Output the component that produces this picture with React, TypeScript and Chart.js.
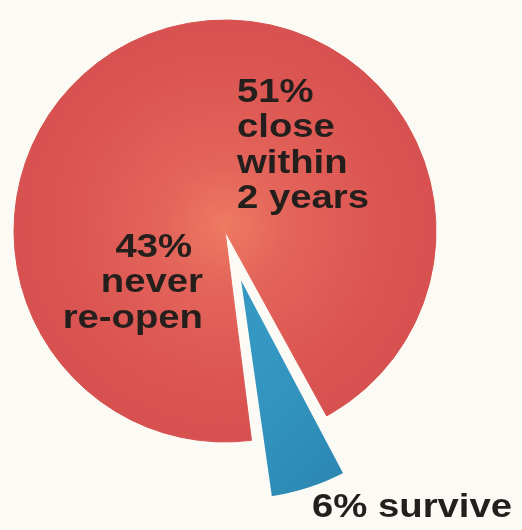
import { useEffect, useRef } from "react";
import { Chart, registerables } from "chart.js";

Chart.register(...registerables);

// ---- data ----
const categories = ["survive", "never re-open", "close within 2 years"];
const shares = [6, 43, 51];
const sliceLabels: string[][] = [
  ["6% survive"],
  ["43%", "never", "re-open"],
  ["51%", "close", "within", "2 years"],
];
const explode = [150, 0, 0];

const BG = "#fbfaf4";
const TEXT = "#241f1c";
const RADIUS = 211;
const STRETCH = 1.16;

function fillFor(c: any) {
  const chart = c.chart;
  const a = chart.chartArea;
  if (!a) return c.dataIndex === 0 ? "#2e8ab5" : "#dc5852";
  const cx = (a.left + a.right) / 2;
  const cy = (a.top + a.bottom) / 2;
  const ctx = chart.ctx as CanvasRenderingContext2D;
  if (c.dataIndex === 0) {
    const g = ctx.createLinearGradient(cx + 10, cy + 100, cx + 130, cy + 220);
    g.addColorStop(0, "#3498c3");
    g.addColorStop(0.6, "#2f8eb9");
    g.addColorStop(1, "#2b80ad");
    return g;
  }
  const g = ctx.createRadialGradient(cx, cy - 5, 0, cx, cy - 5, RADIUS);
  g.addColorStop(0, "#ee7a62");
  g.addColorStop(0.3, "#e3645a");
  g.addColorStop(0.7, "#dc5753");
  g.addColorStop(1, "#d6514f");
  return g;
}

const labelPlugin = {
  id: "sliceLabels",
  afterDatasetsDraw(chart: any) {
    const meta = chart.getDatasetMeta(0);
    const arc = meta.data[1];
    if (!arc) return;
    const cx = arc.x;
    const cy = arc.y;
    const ctx = chart.ctx as CanvasRenderingContext2D;
    ctx.save();
    ctx.scale(STRETCH, 1);
    const X = (x: number) => x / STRETCH;
    ctx.font = "bold 33px 'Liberation Sans', Arial, sans-serif";
    ctx.fillStyle = TEXT;
    ctx.textBaseline = "alphabetic";
    // 51% block, left aligned
    ctx.textAlign = "left";
    sliceLabels[2].forEach((t, i) => ctx.fillText(t, X(cx + 12), cy - 129 + i * 35.3));
    // 43% block
    ctx.textAlign = "right";
    const l43 = sliceLabels[1];
    ctx.fillText(l43[0], X(cx - 33), cy + 26);
    ctx.fillText(l43[1], X(cx - 22), cy + 61);
    ctx.fillText(l43[2], X(cx - 22), cy + 97);
    // 6% label
    ctx.textAlign = "left";
    ctx.fillText(sliceLabels[0][0], X(cx + 87), cy + 286);
    ctx.restore();
  },
};

export default function App() {
  const ref = useRef<HTMLCanvasElement | null>(null);
  useEffect(() => {
    if (!ref.current) return;
    const chart = new Chart(ref.current, {
      type: "pie",
      data: {
        labels: categories,
        datasets: [
          {
            data: shares,
            backgroundColor: fillFor as any,
            borderColor: ((c: any) => (c.dataIndex === 0 ? BG : fillFor(c))) as any,
            borderWidth: [5, 1, 1],
            offset: explode,
          },
        ],
      },
      options: {
        responsive: false,
        animation: false,
        radius: RADIUS,
        rotation: 151.2,
        layout: { padding: { left: 0, right: 72, top: 0, bottom: 68 } },
        plugins: {
          legend: { display: false },
          tooltip: { enabled: false },
        },
      } as any,
      plugins: [labelPlugin],
    });
    return () => chart.destroy();
  }, []);
  return (
    <div style={{ position: "fixed", left: 0, top: 0, width: 522, height: 530, background: BG }}>
      <canvas ref={ref} width={522} height={530} style={{ display: "block" }} />
    </div>
  );
}
